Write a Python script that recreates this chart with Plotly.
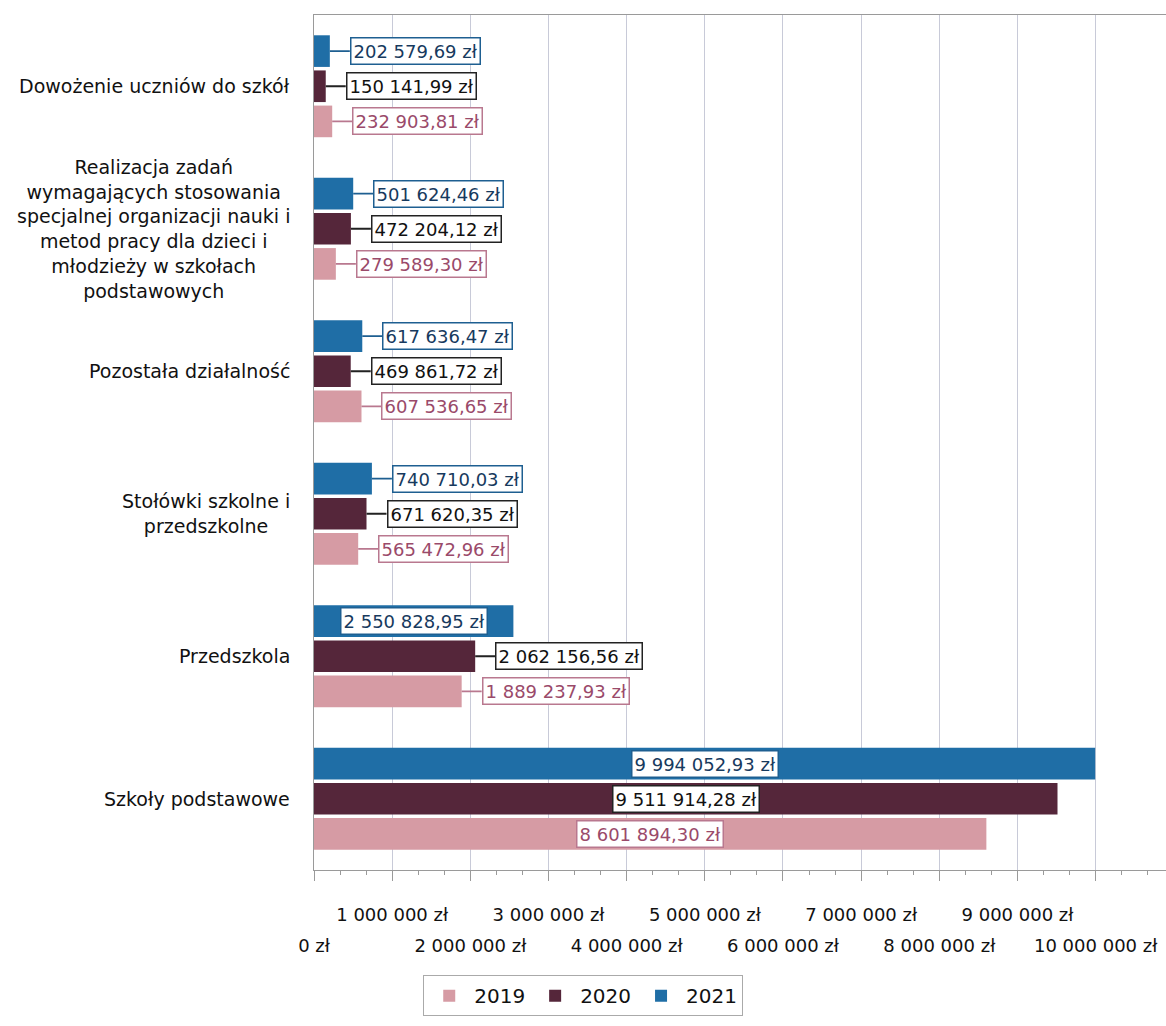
import plotly.graph_objects as go

# ---- data ----
categories = [
    "Szkoły podstawowe",
    "Przedszkola",
    "Stołówki szkolne i<br>przedszkolne",
    "Pozostała działalność",
    "Realizacja zadań<br>wymagających stosowania<br>specjalnej organizacji nauki i<br>metod pracy dla dzieci i<br>młodzieży w szkołach<br>podstawowych",
    "Dowożenie uczniów do szkół",
]
years = ["2019", "2020", "2021"]
values_2019 = [8601894.30, 1889237.93, 565472.96, 607536.65, 279589.30, 232903.81]
values_2020 = [9511914.28, 2062156.56, 671620.35, 469861.72, 472204.12, 150141.99]
values_2021 = [9994052.93, 2550828.95, 740710.03, 617636.47, 501624.46, 202579.69]
tick_values = [0, 1e6, 2e6, 3e6, 4e6, 5e6, 6e6, 7e6, 8e6, 9e6, 10e6]
tick_labels = ["0 zł", "1 000 000 zł", "2 000 000 zł", "3 000 000 zł", "4 000 000 zł",
               "5 000 000 zł", "6 000 000 zł", "7 000 000 zł", "8 000 000 zł",
               "9 000 000 zł", "10 000 000 zł"]

series = [values_2019, values_2020, values_2021]
bar_colors = ["#d69ba4", "#55263a", "#1f6ea6"]
box_colors = ["#b9788f", "#222222", "#1e5f91"]
text_colors = ["#9a4a6a", "#111111", "#173a5e"]

FONT = "DejaVu Sans"
BARGAP = 0.26
ypos = list(range(len(categories)))


def fmt(v):
    s = f"{v:,.2f}".replace(",", " ").replace(".", ",")
    return s + " zł"


fig = go.Figure()
for k, (yr, vals) in enumerate(zip(years, series)):
    fig.add_trace(go.Bar(
        x=vals, y=ypos, orientation="h", name=yr,
        marker=dict(color=bar_colors[k], line=dict(width=0)),
        hoverinfo="skip",
    ))

row1 = [lab if n % 2 == 1 else "" for n, lab in enumerate(tick_labels)]
row2_vals = [v for n, v in enumerate(tick_values) if n % 2 == 0]
row2_text = [lab for n, lab in enumerate(tick_labels) if n % 2 == 0]

# invisible helper trace so the second (label-only) x axis is drawn
fig.add_trace(go.Scatter(x=row2_vals, y=[0] * len(row2_vals), xaxis="x2", yaxis="y",
                         mode="none", showlegend=False, hoverinfo="skip"))

annotations = []
step = (1 - BARGAP) / 3
for k, vals in enumerate(series):
    for i, v in enumerate(vals):
        yy = i + (k - 1) * step
        common = dict(
            y=yy, xref="x", yref="y", text=fmt(v),
            font=dict(family=FONT, size=18, color=text_colors[k]),
            bgcolor="white", bordercolor=box_colors[k], borderwidth=1.5, borderpad=2,
        )
        if v > 2.3e6:
            annotations.append(dict(x=v / 2, showarrow=False, xanchor="center", **common))
        else:
            annotations.append(dict(x=v, showarrow=True, arrowhead=0, arrowwidth=1.8,
                                    arrowcolor=box_colors[k], ax=20, ay=0,
                                    xanchor="left", **common))

for i, c in enumerate(categories):
    annotations.append(dict(
        x=0, xref="paper", y=i, yref="y", text=c, showarrow=False,
        xanchor="right", align="center", xshift=-22,
        font=dict(family=FONT, size=19, color="#111111"),
    ))

XR = [0, 10.9e6]
fig.update_layout(
    width=1166, height=1026,
    margin=dict(l=314, r=0, t=15, b=156),
    paper_bgcolor="white", plot_bgcolor="white",
    barmode="group", bargap=BARGAP, bargroupgap=0.1,
    font=dict(family=FONT, size=17, color="#111111"),
    annotations=annotations,
    xaxis=dict(
        range=XR, tickmode="array", tickvals=tick_values, ticktext=row1,
        showgrid=True, gridcolor="#c8cad8", gridwidth=1,
        ticks="outside", ticklen=10, tickcolor="#9a9a9a",
        showline=True, linecolor="#9a9a9a", mirror=True,
        zeroline=False, ticklabelstandoff=18,
        tickfont=dict(family=FONT, size=18, color="#111111"),
        minor=dict(tickmode="linear", tick0=0, dtick=1e6 / 3, ticks="outside",
                   ticklen=4, tickcolor="#9a9a9a", showgrid=False),
    ),
    xaxis2=dict(
        range=XR, overlaying="x", anchor="y", side="bottom",
        tickmode="array", tickvals=row2_vals, ticktext=row2_text,
        showgrid=False, ticks="", showline=False, zeroline=False,
        ticklabelstandoff=63,
        tickfont=dict(family=FONT, size=18, color="#111111"),
    ),
    yaxis=dict(
        range=[-0.5, len(categories) - 0.5], showticklabels=False,
        showgrid=False, zeroline=False, showline=True, linecolor="#9a9a9a",
        ticks="",
    ),
    legend=dict(
        orientation="h", x=0.316, xanchor="center", y=-0.123, yanchor="top",
        bordercolor="#aaaaaa", borderwidth=1, bgcolor="white",
        font=dict(family=FONT, size=20, color="#111111"),
        itemwidth=40,
    ),
    showlegend=True,
)

fig.write_html("out.html")
